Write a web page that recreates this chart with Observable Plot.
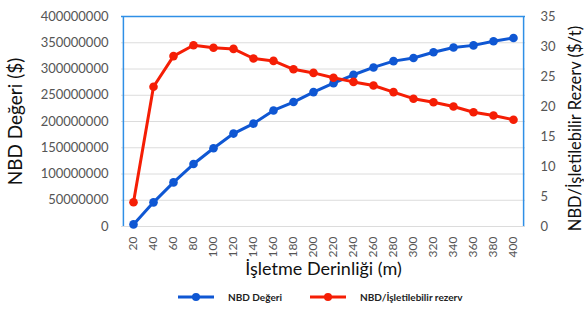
<!DOCTYPE html>
<html><head><meta charset="utf-8">
<script src="https://cdn.jsdelivr.net/npm/d3@7"></script>
<script src="https://cdn.jsdelivr.net/npm/@observablehq/plot@0.6"></script>
<style>
body{margin:0;background:#fff;font-family:Lato,"Open Sans",sans-serif;}
#legend{display:flex;align-items:center;height:25px;position:relative;}
.item{position:absolute;top:0;height:25px;display:flex;align-items:center;font-size:10px;font-weight:bold;color:#222;}
</style></head>
<body><div id="chart"></div><div id="legend"></div>
<script>
const depths = [20,40,60,80,100,120,140,160,180,200,220,240,260,280,300,320,340,360,380,400];
const nbd = [4e6,46e6,84e6,119e6,149e6,177e6,196e6,221e6,237e6,256e6,273e6,289e6,303e6,315e6,321e6,332e6,341e6,345e6,353e6,359e6];
const nbdPerReserve = [4.05,23.3,28.4,30.2,29.8,29.6,28.0,27.6,26.2,25.6,24.8,24.1,23.5,22.4,21.3,20.7,20.0,19.05,18.5,17.8];
const leftTicks = [0,50e6,100e6,150e6,200e6,250e6,300e6,350e6,400e6];
const rightTicks = [0,5,10,15,20,25,30,35];
const seriesNames = ["NBD Değeri","NBD/İşletilebilir rezerv"];
const colors = ["#0f57d3","#f51e05"];

const k = 400e6/35;
const dataA = depths.map((d,i)=>({d, v:nbd[i]}));
const dataB = depths.map((d,i)=>({d, v:nbdPerReserve[i]*k}));
const font = "Lato, 'Open Sans', sans-serif";

const plot = Plot.plot({
  width:584, height:284,
  marginLeft:121, marginRight:59, marginTop:16, marginBottom:58,
  style:{fontFamily:font, background:"#fff"},
  x:{type:"point", domain:depths, padding:0.5},
  y:{domain:[0,400e6]},
  marks:[
    Plot.ruleY(leftTicks,{stroke:"#dcdcdc", strokeWidth:1}),
    Plot.ruleX([depths[0]],{dx:-10.1, stroke:"#2f8fe6", strokeWidth:1.5}),
    Plot.ruleX([depths[depths.length-1]],{dx:10.1, stroke:"#2f8fe6", strokeWidth:1.5}),
    Plot.ruleY([400e6],{stroke:"#2f8fe6", strokeWidth:1.5}),
    Plot.axisY({anchor:"left", ticks:leftTicks, tickFormat:d=>String(d), tickSize:0, tickPadding:13, fontSize:13, fill:"#555", label:null}),
    Plot.axisY({anchor:"right", ticks:rightTicks.map(v=>v*k), tickFormat:d=>String(Math.round(d/k)), tickSize:0, tickPadding:15, fontSize:13, fill:"#555", label:null}),
    Plot.axisX({tickRotate:-90, tickSize:0, tickPadding:10, fontSize:12, fill:"#555", label:null}),
    Plot.line(dataA,{x:"d", y:"v", stroke:colors[0], strokeWidth:3}),
    Plot.dot(dataA,{x:"d", y:"v", r:4.3, fill:colors[0]}),
    Plot.line(dataB,{x:"d", y:"v", stroke:colors[1], strokeWidth:3}),
    Plot.dot(dataB,{x:"d", y:"v", r:4.3, fill:colors[1]}),
    Plot.text(["NBD Değeri ($)"],{frameAnchor:"left", textAnchor:"middle", dx:-106, rotate:-90, fontSize:19, fill:"#111"}),
    Plot.text(["NBD/İşletilebilir Rezerv ($/t)"],{frameAnchor:"right", textAnchor:"middle", dx:50, dy:7, rotate:-90, fontSize:16.5, fill:"#111"}),
    Plot.text(["İşletme Derinliği (m)"],{frameAnchor:"bottom", dy:48, fontSize:18, fill:"#111"})
  ]
});
document.getElementById("chart").appendChild(plot);

const leg = document.getElementById("legend");
const pos = [[178,228],[310,360]];
seriesNames.forEach((n,i)=>{
  const sw = document.createElement("div");
  sw.className="item"; sw.style.left=pos[i][0]+"px";
  sw.innerHTML = `<svg width="36" height="10"><line x1="0" y1="5" x2="36" y2="5" stroke="${colors[i]}" stroke-width="3"/><circle cx="18" cy="5" r="4" fill="${colors[i]}"/></svg>`;
  leg.appendChild(sw);
  const t = document.createElement("div");
  t.className="item"; t.style.left=pos[i][1]+"px"; t.textContent=n;
  leg.appendChild(t);
});
</script></body></html>
